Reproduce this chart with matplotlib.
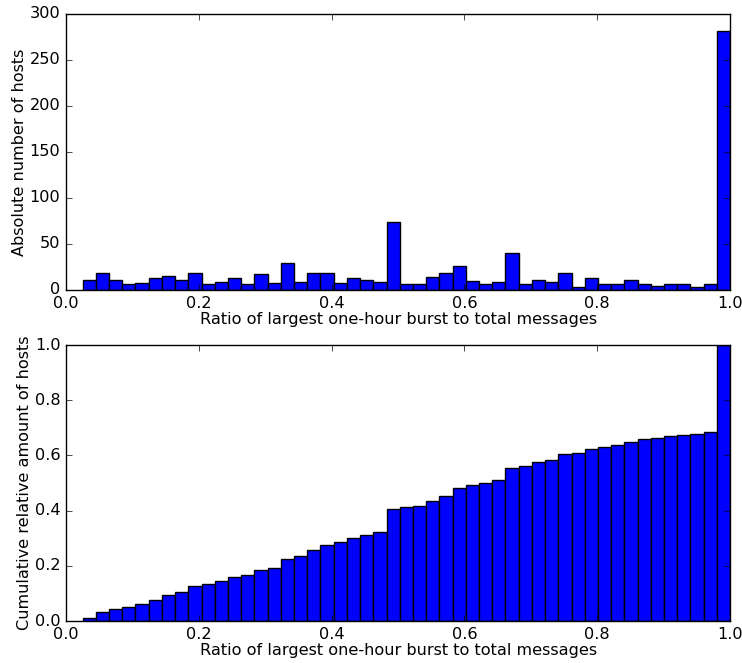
import numpy as np
import matplotlib
matplotlib.use('Agg')
import matplotlib.pyplot as plt

plt.style.use('classic')
matplotlib.rc('font', family='DejaVu Sans', size=11.6)

# per-bin host counts for the burst ratio (49 bins from 0.025 to 1.0)
bin_lo = 0.025
bin_hi = 1.0
counts = [11, 18, 11, 7, 8, 13, 15, 11, 19, 7, 9, 13, 6, 17, 8, 29, 9, 18, 18, 8,
          13, 11, 9, 74, 6, 6, 14, 18, 26, 10, 6, 9, 40, 6, 11, 9, 18, 3, 13, 6,
          7, 11, 7, 4, 6, 6, 3, 6, 281]
xlabel = 'Ratio of largest one-hour burst to total messages'

edges = np.linspace(bin_lo, bin_hi, len(counts) + 1)
centers = (edges[:-1] + edges[1:]) / 2
counts = np.array(counts, dtype=float)
total = counts.sum()

fig = plt.figure(figsize=(7.42, 6.63), dpi=100, facecolor='white')
ax1 = fig.add_axes([0.089, 0.5626, 0.895, 0.4164])
ax2 = fig.add_axes([0.089, 0.0633, 0.895, 0.4163])

ax1.hist(centers, bins=edges, weights=counts, color='#0000ff', edgecolor='black')
ax1.set_xlim(0, 1)
ax1.set_ylim(0, 300)
ax1.set_xlabel(xlabel)
ax1.set_ylabel('Absolute number of hosts')

ax2.hist(centers, bins=edges, weights=counts / total, cumulative=True,
         color='#0000ff', edgecolor='black')
ax2.set_xlim(0, 1)
ax2.set_ylim(0, 1)
ax2.set_xlabel(xlabel)
ax2.set_ylabel('Cumulative relative amount of hosts')

for ax in (ax1, ax2):
    ax.xaxis.labelpad = 1
    ax.yaxis.labelpad = 2

plt.savefig('out.png', dpi=100, facecolor='white')
